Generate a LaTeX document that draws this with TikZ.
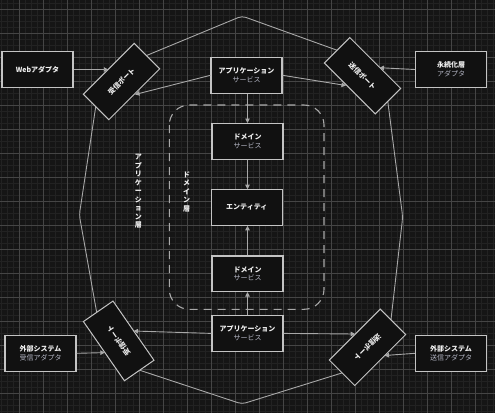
\documentclass[tikz,border=0pt]{standalone}
\usepackage{fontspec}
\setmainfont{Noto Sans CJK JP}
\usetikzlibrary{arrows.meta}
\definecolor{bgc}{HTML}{151515}
\definecolor{minorc}{HTML}{222222}
\definecolor{majorc}{HTML}{454545}
\definecolor{boxfill}{HTML}{111111}
\definecolor{boxline}{HTML}{C4C4C4}
\definecolor{linec}{HTML}{A8A8A8}
\definecolor{txt}{HTML}{F0F0F0}
\definecolor{subtxt}{HTML}{B4B6C4}
\tikzset{
  box/.style={draw=boxline, fill=boxfill, line width=1.1bp, minimum width=71bp, minimum height=35.5bp, inner sep=0pt, align=center, text=txt, font=\fontsize{7bp}{8.7bp}\selectfont},
  portbox/.style={draw=boxline, fill=boxfill, line width=1bp, minimum width=72bp, minimum height=36bp, inner sep=0pt, text=txt, font=\fontsize{7bp}{8.7bp}\selectfont\bfseries},
  vlabel/.style={align=center, inner sep=0pt, text=txt, font=\fontsize{7bp}{8.5bp}\selectfont\bfseries},
  conn/.style={draw=linec, line width=0.9bp, -{Triangle[length=4.5bp,width=4.5bp]}},
  hexline/.style={draw=linec, line width=0.9bp, rounded corners=4bp},
  layerbox/.style={draw=linec, line width=1.1bp, dash pattern=on 8bp off 6bp, rounded corners=20bp}
}
\newcommand{\sub}[1]{{\color{subtxt}\mdseries #1}}
\begin{document}
\begin{tikzpicture}[x=1bp,y=-1bp]
\useasboundingbox (0,0) rectangle (495,413);
\fill[bgc] (0,0) rectangle (495,413);
% minor grid
\foreach \gx in {1.5,7.5,...,495}{\draw[minorc, line width=0.6bp] (\gx,0) -- (\gx,413);}
\foreach \gy in {3.5,9.5,...,413}{\draw[minorc, line width=0.6bp] (0,\gy) -- (495,\gy);}
% major grid
\foreach \gx in {19.5,43.5,...,495}{\draw[majorc, line width=0.8bp] (\gx,0) -- (\gx,413);}
\foreach \gy in {9.5,33.5,...,413}{\draw[majorc, line width=0.8bp] (0,\gy) -- (495,\gy);}

% outer octagon (application layer); its corners at the ports are hidden below the ports
\draw[hexline] (109.8,70.7) -- (242,16) -- (373.9,63.5);
\draw[hexline] (384.6,76.8) -- (402.7,217) -- (387.7,348.5);
\draw[hexline] (375.3,362.6) -- (242,404) -- (114.5,361.9);
\draw[hexline] (102.5,345) -- (79.3,215) -- (99.1,84.4);

% domain layer container
\draw[layerbox] (169.3,105) rectangle (324,309.3);

% layer labels
\node[vlabel] (applayer) at (138.3,191.5) {ア\\プ\\リ\\ケ\\ー\\シ\\ョ\\ン\\層};
\node[vlabel] (domlayer) at (186.7,191.5) {ド\\メ\\イ\\ン\\層};

% boxes
\node[box] (web) at (37.5,69.5) {\bfseries Webアダプタ};
\node[box] (persist) at (451,69.5) {\bfseries 永続化層\\\sub{アダプタ}};
\node[box] (extrecv) at (40.5,353.3) {\bfseries 外部システム\\\sub{受信アダプタ}};
\node[box] (extsend) at (451,353.3) {\bfseries 外部システム\\\sub{送信アダプタ}};
\node[box] (apptop) at (246.5,75.3) {\bfseries アプリケーション\\\sub{サービス}};
\node[box] (domtop) at (247.5,141.3) {\bfseries ドメイン\\\sub{サービス}};
\node[box] (entity) at (246.8,207.5) {\bfseries エンティティ};
\node[box] (dombot) at (247.5,273.7) {\bfseries ドメイン\\\sub{サービス}};
\node[box] (appbot) at (247.5,333.4) {\bfseries アプリケーション\\\sub{サービス}};

% ports
\node[portbox, rotate=45] (tlport) at (121.5,81.5) {受信ポート};
\node[portbox, rotate=-45] (trport) at (362.5,75.7) {送信ポート};
\node[portbox, rotate=124.7] (blport) at (118.7,340.9) {受信ポート};
\node[portbox, rotate=225] (brport) at (367.5,347.3) {送信ポート};

% connector end points on port edges
\coordinate (t1) at (108.3,69.5);
\coordinate (t2) at (135,94.5);
\coordinate (t3) at (346,85.5);
\coordinate (t4) at (379.5,67.7);
\coordinate (t5) at (104.8,352.6);
\coordinate (t6) at (133.6,331);
\coordinate (t7) at (355.2,334);
\coordinate (t8) at (384.5,355.5);

% connectors
\draw[conn] (web.east) -- (t1);
\draw[conn] (apptop.west) -- (t2);
\draw[conn] (apptop.east) -- (t3);
\draw[conn] (persist.west) -- (t4);
\draw[conn] (extrecv.east) -- (t5);
\draw[conn] (appbot.west) -- (t6);
\draw[conn] (appbot.east) -- (t7);
\draw[conn] (extsend.west) -- (t8);
\draw[conn] (apptop.south -| domtop.north) -- (domtop.north);
\draw[conn] (domtop.south) -- (domtop.south |- entity.north);
\draw[conn] (dombot.north) -- (dombot.north |- entity.south);
\draw[conn] (appbot.north) -- (dombot.south);
\end{tikzpicture}
\end{document}
